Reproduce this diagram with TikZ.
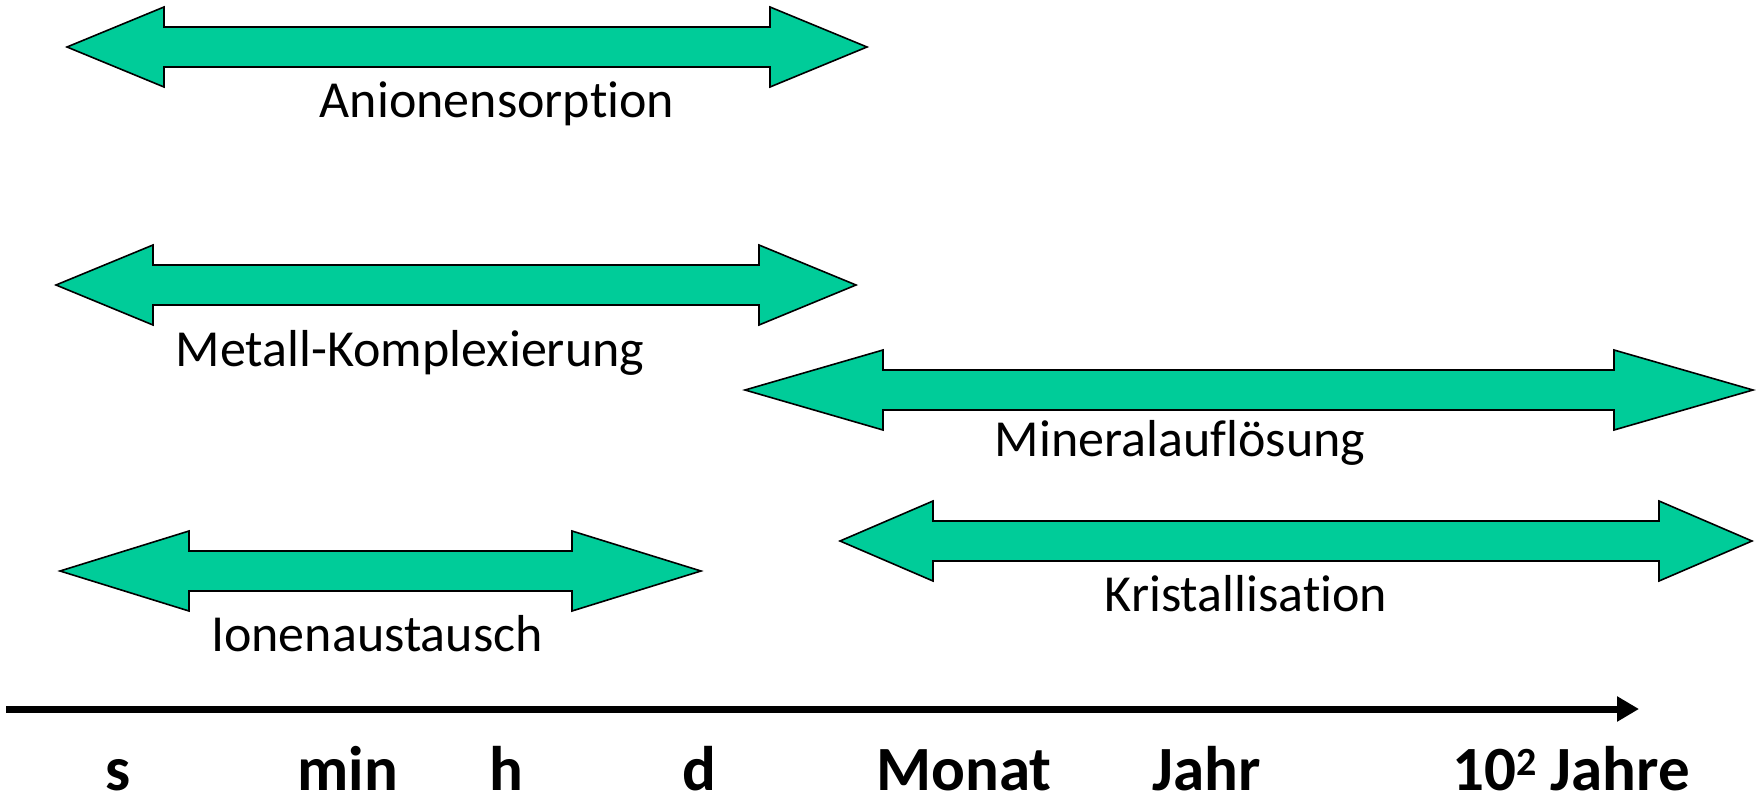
\documentclass[tikz,border=0pt]{standalone}
\usepackage{fontspec}
\setmainfont{Carlito}[Ligatures=NoCommon]
\usetikzlibrary{arrows.meta}
\definecolor{arrgreen}{HTML}{00CC99}
\newcommand{\dblarr}[5]{%
  \draw[dblshape] (#1,#5) -- (#2,#5-40) -- (#2,#5-20) -- (#3,#5-20) -- (#3,#5-40)
    -- (#4,#5) -- (#3,#5+40) -- (#3,#5+20) -- (#2,#5+20) -- (#2,#5+40) -- cycle;}
\begin{document}
\begin{tikzpicture}[x=1pt,y=-1pt,
  dblshape/.style={fill=arrgreen,draw=black,line width=1.6pt,line join=miter},
  proclabel/.style={anchor=base,inner sep=0pt,font=\fontsize{52}{60}\selectfont},
  timelabel/.style={anchor=base,inner sep=0pt,font=\fontsize{63}{70}\selectfont\bfseries},
  axis/.style={line width=7pt,-{Triangle[length=22pt,width=24pt]}}]
\useasboundingbox (0,0) rectangle (1761,800);
% double arrows
\dblarr{67}{164}{770}{867}{47}
\dblarr{56}{153}{759}{856}{285}
\dblarr{745}{883}{1614}{1753}{390}
\dblarr{60}{189}{572}{701}{571}
\dblarr{840}{933}{1659}{1752}{541}
% process labels
\node[proclabel] (anion) at (497,117) {Anionensorption};
\node[proclabel] (metall) at (410,366) {Metall-Komplexierung};
\node[proclabel] (mineral) at (1180,456) {Mineralauflösung};
\node[proclabel] (ionen) at (377,651) {Ionenaustausch};
\node[proclabel] (kristall) at (1246,611) {Kristallisation};
% time axis
\coordinate (axstart) at (6,709);
\coordinate (axend) at (1639,709);
\draw[axis] (axstart) -- (axend);
% time labels
\node[timelabel] (ts) at (118,790) {s};
\node[timelabel] (tmin) at (348,790) {min};
\node[timelabel] (th) at (506,790) {h};
\node[timelabel] (td) at (699,790) {d};
\node[timelabel] (tmonat) at (964,790) {Monat};
\node[timelabel] (tjahr) at (1207,790) {Jahr};
\node[timelabel] (tjahre) at (1571,790) {10\raisebox{15pt}{\fontsize{40}{40}\selectfont\bfseries 2} Jahre};
\end{tikzpicture}
\end{document}
